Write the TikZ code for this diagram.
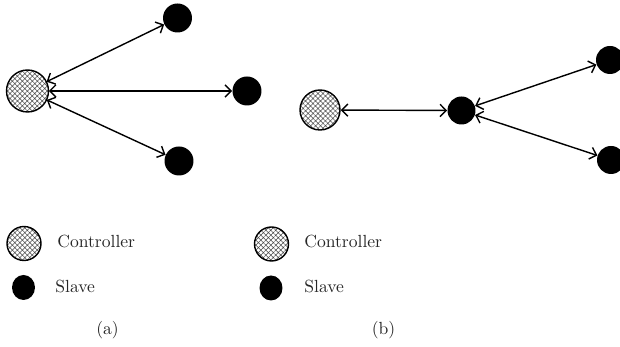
\documentclass[tikz,border=0pt]{standalone}
\usepackage{tikz}
\usetikzlibrary{arrows.meta}
\usetikzlibrary{patterns.meta}
\usetikzlibrary{shapes.geometric}

\tikzset{
 ctrl/.style={circle, draw, thick, minimum size=0.84cm, inner sep=0pt,
   pattern={Hatch[angle=45,distance=2pt,line width=0.3pt]}, pattern color=black!70},
 slave/.style={circle, fill=black, minimum size=0.58cm, inner sep=0pt},
 link/.style={thick, {Straight Barb[length=3.5pt,width=7pt]}-{Straight Barb[length=3.5pt,width=7pt]}},
 legtext/.style={anchor=base west, inner sep=0pt, text=black!85}
}

\begin{document}
\begin{tikzpicture}[x=0.02cm,y=-0.02cm]
 \useasboundingbox (0,0) rectangle (620,347);

 % (a) star
 \node[ctrl] (ca) at (27.5,91) {};
 \node[slave] (sa1) at (177.5,18) {};
 \node[slave] (sa2) at (247,91) {};
 \node[slave] (sa3) at (179,161) {};
 \draw[link] (ca) -- (sa1);
 \draw[link] (ca) -- (sa2);
 \draw[link] (ca) -- (sa3);

 % (b) relay
 \node[ctrl, minimum size=0.8cm] (cb) at (320,110) {};
 \node[slave, minimum size=0.56cm] (sb0) at (461.5,110.5) {};
 \node[slave, minimum size=0.56cm] (sb1) at (610,60) {};
 \node[slave, minimum size=0.56cm] (sb2) at (611,160) {};
 \draw[link] (cb) -- (sb0);
 \draw[link] (sb0) -- (sb1);
 \draw[link] (sb0) -- (sb2);

 % legends
 \node[ctrl, minimum size=0.68cm] (lca) at (24,243.5) {};
 \node[legtext] (tca) at (57,248) {Controller};
 \node[slave, ellipse, minimum width=0.46cm, minimum height=0.5cm] (lsa) at (23.5,287.5) {};
 \node[legtext] (tsa) at (55,293) {Slave};

 \node[ctrl, minimum size=0.68cm] (lcb) at (271.5,244) {};
 \node[legtext] (tcb) at (304,248) {Controller};
 \node[slave, ellipse, minimum width=0.46cm, minimum height=0.5cm] (lsb) at (271,288) {};
 \node[legtext] (tsb) at (304,293) {Slave};

 \node[text=black!85] (capa) at (107.5,330) {(a)};
 \node[text=black!85] (capb) at (383.5,330) {(b)};
\end{tikzpicture}
\end{document}
